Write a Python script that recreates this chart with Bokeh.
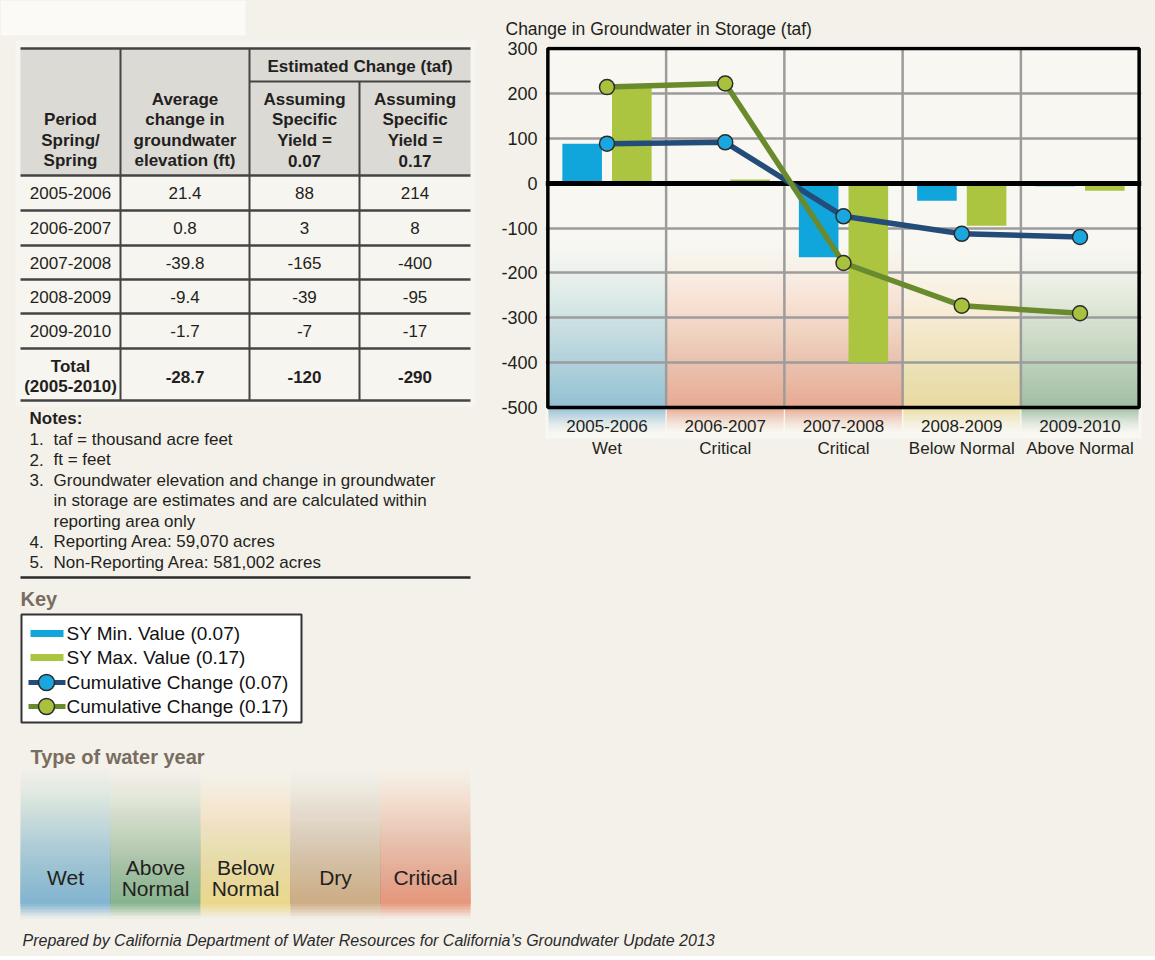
from bokeh.plotting import figure
from bokeh.layouts import column, row
from bokeh.models import Range1d, FixedTicker
from bokeh.embed import file_html
from bokeh.resources import INLINE
from bokeh.core.properties import value

# ---------------- data ----------------
periods = ["2005-2006", "2006-2007", "2007-2008", "2008-2009", "2009-2010"]
period_year_types = ["Wet", "Critical", "Critical", "Below Normal", "Above Normal"]
avg_change_ft = [21.4, 0.8, -39.8, -9.4, -1.7]
sy_min_taf = [88, 3, -165, -39, -7]
sy_max_taf = [214, 8, -400, -95, -17]
total_row = ["-28.7", "-120", "-290"]
cum_min_taf = [88, 91, -74, -113, -120]
cum_max_taf = [214, 222, -178, -273, -290]
y_ticks = [-500, -400, -300, -200, -100, 0, 100, 200, 300]
water_year_types = ["Wet", "Above Normal", "Below Normal", "Dry", "Critical"]
water_year_colors = ["#7fb5d3", "#85b48e", "#ecd98b", "#cfad84", "#e8957a"]
key_labels = ["SY Min. Value (0.07)", "SY Max. Value (0.17)",
              "Cumulative Change (0.07)", "Cumulative Change (0.17)"]
header_cols = [["Period", "Spring/", "Spring"],
               ["Average", "change in", "groundwater", "elevation (ft)"],
               ["Assuming", "Specific", "Yield =", "0.07"],
               ["Assuming", "Specific", "Yield =", "0.17"]]
notes_title = "Notes:"
notes_num = ["1.", "2.", "3.", "", "", "4.", "5."]
notes_text = ["taf = thousand acre feet", "ft = feet",
              "Groundwater elevation and change in groundwater",
              "in storage are estimates and are calculated within",
              "reporting area only",
              "Reporting Area: 59,070 acres",
              "Non-Reporting Area: 581,002 acres"]
caption = "Prepared by California Department of Water Resources for California\u2019s Groundwater Update 2013"

# ---------------- style ----------------
FONT = "'Liberation Sans', Arial, sans-serif"
PAGE = "#f4f1ea"
INK = "#231f20"
LINE = "#444444"
BLUE_BAR = "#10a6dc"
GREEN_BAR = "#abc541"
BLUE_LINE = "#234c79"
GREEN_LINE = "#6a8a2e"
BLUE_DOT = "#1aa6de"
GREEN_DOT = "#a9c23e"
KEY_BROWN = "#786d5f"
type_color = dict(zip(water_year_types, water_year_colors))


def txt(fig, xs, ys, texts, size="17px", style="normal", align="center", color=INK):
    fig.text(x=xs, y=ys, text=texts, text_font=value(FONT), text_font_size=size,
             text_font_style=style, text_align=align, text_baseline="middle",
             text_color=color)


def no_align(f):
    try:
        f.frame_align = False
    except AttributeError:
        pass


def pixel_fig(w, h, x0, y0):
    f = figure(width=w, height=h, x_range=Range1d(x0, x0 + w), y_range=Range1d(y0 + h, y0),
               x_axis_type=None, y_axis_type=None, toolbar_location=None,
               output_backend="svg", min_border=0, background_fill_color=PAGE,
               border_fill_color=PAGE, outline_line_color=None)
    f.grid.visible = False
    no_align(f)
    return f


def rise_alphas(targets):
    # nested layers, layer m covers slice m and everything after it
    out, prev = [], 0.0
    for c in targets:
        out.append(1 - (1 - c) / (1 - prev))
        prev = c
    return out


def fall_alphas(targets):
    # nested layers, layer k covers slice k and everything before it
    out = []
    for k, c in enumerate(targets):
        nxt = targets[k + 1] if k + 1 < len(targets) else 0.0
        out.append(1 - (1 - c) / (1 - nxt))
    return out


# ================= left top: table + notes =================
tl = pixel_fig(490, 584, 0, 0)
tl.quad(left=[0], right=[245], top=[0], bottom=[35], fill_color="#fbfaf7", line_color=None)
tl.quad(left=[15], right=[475], top=[40], bottom=[406], fill_color="#f7f5f0", line_color=None)

col_edges = [20, 120, 249, 359, 470]
col_centers = [(col_edges[i] + col_edges[i + 1]) / 2 for i in range(4)]
row_edges = [175, 210, 245, 279, 313, 348, 400]
tl.quad(left=[col_edges[0]], right=[col_edges[-1]], top=[48], bottom=[row_edges[0]],
        fill_color="#dcdad4", line_color=None)
hy = [48] + row_edges
tl.segment(x0=[col_edges[0]] * len(hy), x1=[col_edges[-1]] * len(hy), y0=hy, y1=hy,
           line_color=LINE, line_width=2.5)
tl.segment(x0=[col_edges[2]], x1=[col_edges[4]], y0=[81], y1=[81], line_color=LINE, line_width=2)
tl.segment(x0=[col_edges[1], col_edges[2], col_edges[3]], x1=[col_edges[1], col_edges[2], col_edges[3]],
           y0=[48, 48, 81], y1=[400, 400, 400], line_color=LINE, line_width=2)

txt(tl, [(col_edges[2] + col_edges[4]) / 2], [66], ["Estimated Change (taf)"], style="bold")
for ci, lines in enumerate(header_cols):
    n = len(lines)
    ys = [160 - 20.3 * (n - 1 - j) for j in range(n)]
    txt(tl, [col_centers[ci]] * n, ys, lines, style="bold")

row_centers = [(row_edges[i] + row_edges[i + 1]) / 2 for i in range(5)]
txt(tl, [col_centers[0]] * 5, row_centers, periods)
txt(tl, [col_centers[1]] * 5, row_centers, [f"{v:.1f}" for v in avg_change_ft])
txt(tl, [col_centers[2]] * 5, row_centers, [str(v) for v in sy_min_taf])
txt(tl, [col_centers[3]] * 5, row_centers, [str(v) for v in sy_max_taf])
txt(tl, [col_centers[0]] * 2, [366, 386], ["Total", "(2005-2010)"], style="bold")
txt(tl, col_centers[1:], [376] * 3, total_row, style="bold")

txt(tl, [29], [418], [notes_title], style="bold", align="left")
ny = [438.5 + 20.5 * i for i in range(len(notes_text))]
txt(tl, [29] * len(ny), ny, notes_num, align="left")
txt(tl, [53] * len(ny), ny, notes_text, align="left")
tl.segment(x0=[20], x1=[470], y0=[577], y1=[577], line_color="#2a2a2a", line_width=2.5)

# ================= chart =================
n = len(periods)
centers = [i + 0.5 for i in range(n)]
chart = figure(width=665, height=584, x_range=Range1d(-0.02, n + 0.02),
               y_range=Range1d(-569.1, 304.5), toolbar_location=None, output_backend="svg",
               min_border_left=55, min_border_right=14, min_border_top=46, min_border_bottom=146,
               background_fill_color="#f8f7f2", border_fill_color=PAGE, outline_line_color=None)
no_align(chart)

# water-year-type colour bands (smooth gradients made of nested layers)
band_top = -130.0
M = 37
rise_step = (band_top - y_ticks[0]) / M
rise_targets = [0.72 * ((m + 0.5) / M) ** 1.3 for m in range(M)]
rise_a = rise_alphas(rise_targets)
K = 12
fall_step = 5.0
fall_targets = [0.78 * (1 - (k + 0.5) / K) ** 1.6 for k in range(K)]
fall_a = fall_alphas(fall_targets)
bl, br, bt, bb, bc, ba = [], [], [], [], [], []
for i, t in enumerate(period_year_types):
    c = type_color[t]
    for m in range(M):
        bl.append(i + 0.004); br.append(i + 1 - 0.004)
        bt.append(band_top - rise_step * m); bb.append(y_ticks[0])
        bc.append(c); ba.append(rise_a[m])
    for k in range(K):
        bl.append(i + 0.006); br.append(i + 1 - 0.006)
        bt.append(y_ticks[0]); bb.append(y_ticks[0] - fall_step * (k + 1))
        bc.append(c); ba.append(fall_a[k])
chart.quad(left=bl, right=br, top=bt, bottom=bb, fill_color=bc, fill_alpha=ba,
           line_color=None, level="image")

chart.xgrid.visible = False
chart.ygrid.ticker = FixedTicker(ticks=[v for v in y_ticks if v not in (0, y_ticks[0], y_ticks[-1])])
chart.ygrid.grid_line_color = "#9c9c9c"
chart.ygrid.grid_line_width = 2.5
sep = list(range(1, n))
chart.segment(x0=sep, x1=sep, y0=[y_ticks[0]] * len(sep), y1=[y_ticks[-1]] * len(sep),
              line_color="#9c9c9c", line_width=2.5, level="underlay")

chart.vbar(x=[c - 0.21 for c in centers], width=0.335, top=sy_min_taf, bottom=0,
           fill_color=BLUE_BAR, line_color=None)
chart.vbar(x=[c + 0.21 for c in centers], width=0.335, top=sy_max_taf, bottom=0,
           fill_color=GREEN_BAR, line_color=None)
chart.hspan(y=[0], line_color="black", line_width=5)
chart.quad(left=[0], right=[n], bottom=[y_ticks[0]], top=[y_ticks[-1]], fill_color=None,
           line_color="black", line_width=3.5)

chart.line(x=centers, y=cum_min_taf, line_color=BLUE_LINE, line_width=5.5)
chart.scatter(x=centers, y=cum_min_taf, size=15, fill_color=BLUE_DOT, line_color="#2b2b2b", line_width=1.5)
chart.line(x=centers, y=cum_max_taf, line_color=GREEN_LINE, line_width=5.5)
chart.scatter(x=centers, y=cum_max_taf, size=15, fill_color=GREEN_DOT, line_color="#2b2b2b", line_width=1.5)

chart.title.text = "Change in Groundwater in Storage (taf)"
chart.title.align = "left"
chart.title.offset = -40
chart.title.standoff = 15
chart.title.text_font = FONT
chart.title.text_font_size = "17.5px"
chart.title.text_font_style = "normal"
chart.title.text_color = INK

ya = chart.yaxis[0]
ya.ticker = FixedTicker(ticks=y_ticks)
ya.major_label_overrides = {v: str(v) for v in y_ticks}
ya.axis_line_color = None
ya.major_tick_line_color = None
ya.minor_tick_line_color = None
ya.major_tick_out = 0
ya.major_tick_in = 0
ya.major_label_standoff = 8
ya.major_label_text_font = FONT
ya.major_label_text_font_size = "18px"
ya.major_label_text_color = INK

xa = chart.xaxis[0]
xa.ticker = FixedTicker(ticks=centers)
xa.major_label_overrides = {c: f"{p}\n{t}" for c, p, t in zip(centers, periods, period_year_types)}
xa.axis_line_color = None
xa.major_tick_line_color = None
xa.minor_tick_line_color = None
xa.major_tick_out = 0
xa.major_tick_in = 0
xa.major_label_standoff = -22
xa.major_label_text_font = FONT
xa.major_label_text_font_size = "17px"
xa.major_label_text_color = INK

# ================= bottom: key, water year types, caption =================
bot = pixel_fig(1155, 372, 0, 584)
txt(bot, [20], [598], ["Key"], size="20px", style="bold", align="left", color=KEY_BROWN)
bot.quad(left=[21], right=[301], top=[614], bottom=[722], fill_color="white",
         line_color="#333333", line_width=2)
ky = [633, 657, 682, 706]
bot.quad(left=[30, 30], right=[63, 63], top=[ky[0] - 3.5, ky[1] - 3.5], bottom=[ky[0] + 3.5, ky[1] + 3.5],
         fill_color=[BLUE_BAR, GREEN_BAR], line_color=None)
bot.segment(x0=[28, 28], x1=[65, 65], y0=ky[2:], y1=ky[2:], line_color=[BLUE_LINE, GREEN_LINE], line_width=5)
bot.scatter(x=[46, 46], y=ky[2:], size=16, fill_color=[BLUE_DOT, GREEN_DOT], line_color="#2b2b2b", line_width=1.5)
txt(bot, [66] * 4, ky, key_labels, size="19px", align="left", color="#111111")

txt(bot, [30], [756], ["Type of water year"], size="20px", style="bold", align="left", color=KEY_BROWN)
sw_top, sw_peak, sw_end = 765, 903, 918
SM = (sw_peak - sw_top) // 3
s_rise = rise_alphas([0.95 * ((m + 0.5) / SM) ** 1.25 for m in range(SM)])
SK = (sw_end - sw_peak) // 3
s_fall = fall_alphas([0.95 * (1 - (k + 0.5) / SK) for k in range(SK)])
sl, sr, st, sb, sc, sa = [], [], [], [], [], []
for i, c in enumerate(water_year_colors):
    x0 = 20 + 90 * i
    for m in range(SM):
        sl.append(x0); sr.append(x0 + 90); st.append(sw_top + 3 * m); sb.append(sw_peak)
        sc.append(c); sa.append(s_rise[m])
    for k in range(SK):
        sl.append(x0); sr.append(x0 + 90); st.append(sw_peak); sb.append(sw_peak + 3 * (k + 1))
        sc.append(c); sa.append(s_fall[k])
bot.quad(left=sl, right=sr, top=st, bottom=sb, fill_color=sc, fill_alpha=sa, line_color=None)
wx, wy, wt = [], [], []
for i, t in enumerate(water_year_types):
    parts = t.split()
    for j, w in enumerate(parts):
        wx.append(65 + 90 * i)
        wy.append(877 + (j - (len(parts) - 1) / 2) * 21)
        wt.append(w)
txt(bot, wx, wy, wt, size="21px")

txt(bot, [22], [940], [caption], size="16px", style="italic", align="left", color="#2a2a2a")

top_row = row(tl, chart, spacing=0)
layout = column(top_row, bot, spacing=0)
for container in (top_row, layout):
    try:
        container.styles = {"background-color": PAGE}
    except Exception:
        pass
open("out.html", "w").write(file_html(layout, INLINE))
